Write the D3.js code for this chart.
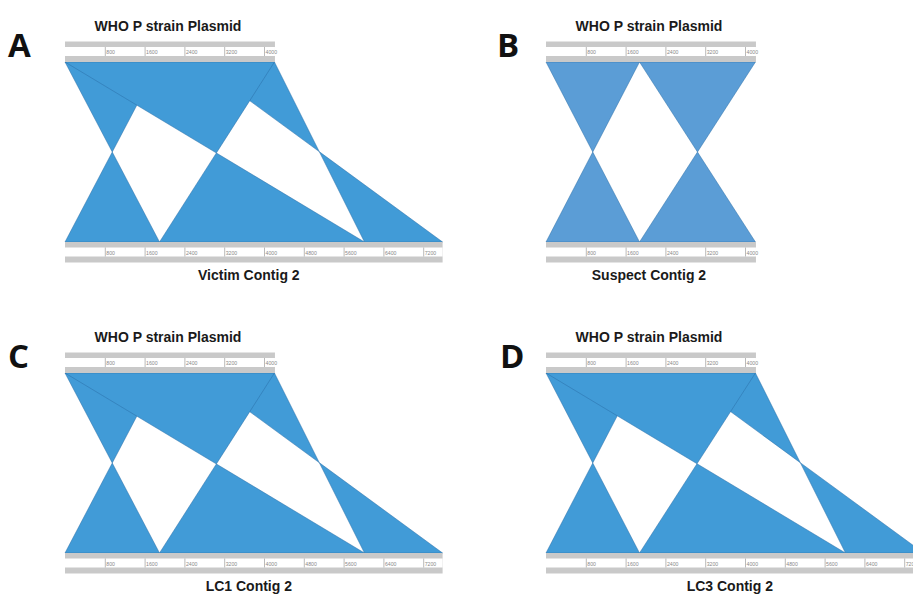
<!DOCTYPE html>
<html>
<head>
<meta charset="utf-8">
<script src="https://cdn.jsdelivr.net/npm/d3@7"></script>
<style>
  html, body { margin: 0; padding: 0; background: #fff; }
  svg { display: block; }
</style>
</head>
<body>
<svg id="chart" width="913" height="594"></svg>
<script>
// Sequence lengths (bp)
const plasmidName = "WHO P strain Plasmid";
const plasmidLength = 4220;
const panelLetters = ["A", "B", "C", "D"];
const contigNames = ["Victim Contig 2", "Suspect Contig 2", "LC1 Contig 2", "LC3 Contig 2"];
const contigLengths = [7590, 4220, 7590, 7590];

// Ruler tick labels (bp)
const plasmidTicks = [800, 1600, 2400, 3200, 4000];
const contigTicks = [
  [800, 1600, 2400, 3200, 4000, 4800, 5600, 6400, 7200],
  [800, 1600, 2400, 3200, 4000],
  [800, 1600, 2400, 3200, 4000, 4800, 5600, 6400, 7200],
  [800, 1600, 2400, 3200, 4000, 4800, 5600, 6400, 7200]
];

// BLAST matches: plasmid start/end -> contig start/end (reversed = inverted hit).
// Listed in drawing order; the long match is painted last, over the others.
const victimHits = [
  { qStart: 0,    qEnd: 1900, sStart: 1900, sEnd: 0 },
  { qStart: 2650, qEnd: 4210, sStart: 7590, sEnd: 6020 },
  { qStart: 0,    qEnd: 4210, sStart: 6020, sEnd: 1900 }
];
const suspectHits = [
  { qStart: 0,    qEnd: 1880, sStart: 1880, sEnd: 0 },
  { qStart: 1880, qEnd: 4210, sStart: 4210, sEnd: 1880 }
];
const lc1Hits = [
  { qStart: 0,    qEnd: 1900, sStart: 1900, sEnd: 0 },
  { qStart: 2650, qEnd: 4210, sStart: 7590, sEnd: 6020 },
  { qStart: 0,    qEnd: 4210, sStart: 6020, sEnd: 1900 }
];
const lc3Hits = [
  { qStart: 0,    qEnd: 1880, sStart: 1880, sEnd: 0 },
  { qStart: 2650, qEnd: 4210, sStart: 7590, sEnd: 6020 },
  { qStart: 0,    qEnd: 4210, sStart: 6020, sEnd: 1880 }
];
const panelHits = [victimHits, suspectHits, lc1Hits, lc3Hits];

// Layout
const pxPerBp = 0.04975;
const panelOrigins = [
  { x: 65,  y: 0,   letterX: 8,   fill: "#419bd7" },
  { x: 546, y: 0,   letterX: 497, fill: "#5b9dd6" },
  { x: 65,  y: 311, letterX: 8,   fill: "#419bd7" },
  { x: 546, y: 311, letterX: 500, fill: "#419bd7" }
];

const svg = d3.select("#chart");

function drawRuler(g, scale, length, ticks, y) {
  const x0 = scale(0), x1 = scale(length);
  // outer grey bar with white label band
  g.append("rect").attr("x", x0).attr("y", y).attr("width", x1 - x0).attr("height", 20.5)
    .attr("fill", "#c9c9c9");
  g.append("rect").attr("x", x0).attr("y", y + 5.5).attr("width", x1 - x0).attr("height", 9)
    .attr("fill", "#ffffff");
  const t = g.selectAll(null).data(ticks).enter().append("g")
    .attr("transform", d => `translate(${scale(d)},${y + 5.5})`);
  t.append("line").attr("x1", 0.5).attr("x2", 0.5).attr("y1", 0).attr("y2", 9)
    .attr("stroke", "#a8a8a8").attr("stroke-width", 0.8);
  t.append("text").attr("x", 1.5).attr("y", 7)
    .attr("font-family", "Liberation Sans, Arial, sans-serif")
    .attr("font-size", 5.2).attr("fill", "#8a8a8a")
    .text(d => d);
}

panelOrigins.forEach((p, i) => {
  const g = svg.append("g").attr("transform", `translate(0,${p.y})`);
  const topY = 62, botY = 242;

  const xTop = d3.scaleLinear().domain([0, plasmidLength])
    .range([p.x, p.x + plasmidLength * pxPerBp]);
  const xBot = d3.scaleLinear().domain([0, contigLengths[i]])
    .range([p.x, p.x + contigLengths[i] * pxPerBp]);

  // match ribbons, each filled and outlined before the next one
  const ribbon = d => {
    const path = d3.path();
    path.moveTo(xTop(d.qStart), topY);
    path.lineTo(xTop(d.qEnd), topY);
    path.lineTo(xBot(d.sEnd), botY);
    path.lineTo(xBot(d.sStart), botY);
    path.closePath();
    return path.toString();
  };
  g.selectAll("path.hit").data(panelHits[i]).enter().append("path")
    .attr("class", "hit")
    .attr("d", ribbon)
    .attr("fill", p.fill)
    .attr("stroke", "#2a6fa8")
    .attr("stroke-opacity", 0.7)
    .attr("stroke-width", 0.7);

  // rulers
  drawRuler(g, xTop, plasmidLength, plasmidTicks, 41.5);
  drawRuler(g, xBot, contigLengths[i], contigTicks[i], 242);

  // titles
  const topCenter = (xTop(0) + xTop(plasmidLength)) / 2 - 2;
  g.append("text").attr("x", topCenter).attr("y", 31)
    .attr("text-anchor", "middle")
    .attr("font-family", "Liberation Sans, Arial, sans-serif")
    .attr("font-weight", "bold").attr("font-size", 14).attr("fill", "#1a1a1a")
    .text(plasmidName);
  const botCenter = i === 1 ? topCenter : (xBot(0) + xBot(contigLengths[i])) / 2 - 5;
  g.append("text").attr("x", botCenter).attr("y", 280)
    .attr("text-anchor", "middle")
    .attr("font-family", "Liberation Sans, Arial, sans-serif")
    .attr("font-weight", "bold").attr("font-size", 14).attr("fill", "#1a1a1a")
    .text(contigNames[i]);

  // panel letter
  g.append("text").attr("x", p.letterX).attr("y", 57)
    .attr("font-family", "Open Sans, Liberation Sans, Arial, sans-serif")
    .attr("font-weight", "bold").attr("font-size", 33).attr("fill", "#111")
    .text(panelLetters[i]);
});
</script>
</body>
</html>
